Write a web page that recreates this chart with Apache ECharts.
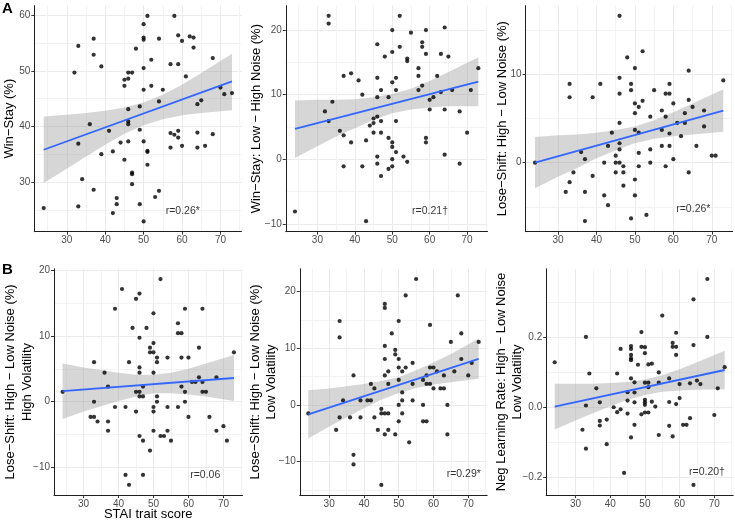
<!DOCTYPE html>
<html><head><meta charset="utf-8">
<script src="https://cdn.jsdelivr.net/npm/echarts@6/dist/echarts.min.js"></script>
<style>html,body{margin:0;padding:0;background:#fff}#c{width:735px;height:522px}</style>
</head><body><div id="c"></div>
<script>
// ---------- data (STAI trait score, measure) ----------
const winStay = [[24,25.3],[32,49.7],[33,54.5],[33,36.9],[33,25.6],[34,30.5],[36,40.4],[37,55.8],[37,52.9],[37,28.6],[39,50.8],[39,35.0],[41,39.2],[42,35.5],[42,24.4],[43,27.1],[43,26.0],[44,37.1],[45,48.4],[45,47.3],[45,34.0],[46,49.7],[46,48.6],[46,43.1],[46,40.9],[46,40.4],[46,37.3],[47,49.7],[47,31.7],[47,31.4],[47,29.6],[48,54.0],[49,43.6],[49,39.4],[49,26.0],[50,58.4],[50,56.0],[50,55.6],[50,50.5],[50,46.6],[50,37.3],[50,22.9],[51,59.9],[51,35.6],[51,35.4],[51,33.1],[52,52.0],[52,47.3],[53,27.3],[54,55.8],[54,44.5],[54,28.4],[55,46.6],[57,51.2],[57,38.8],[57,36.2],[58,59.9],[58,38.5],[59,56.4],[59,51.2],[59,39.2],[59,38.0],[60,55.4],[60,36.5],[61,49.0],[62,56.2],[63,56.0],[63,54.2],[64,44.0],[64,38.9],[64,36.2],[65,44.7],[66,36.5],[68,52.3],[68,38.6],[70,47.0],[71,45.8],[73,46.0]];
const winStayNoise = [[24,-8.1],[32,7.4],[33,22.2],[33,21.0],[33,5.9],[34,8.9],[36,4.4],[37,12.9],[37,3.7],[37,-1.1],[39,13.3],[39,2.6],[41,12.2],[42,10.0],[42,-1.1],[43,2.9],[43,-9.6],[44,5.2],[45,6.3],[45,5.6],[45,4.1],[46,17.8],[46,12.6],[46,9.6],[46,6.6],[46,0.4],[46,-0.7],[47,10.7],[47,5.9],[47,4.1],[47,-2.6],[48,15.9],[49,9.6],[49,3.3],[49,-1.5],[50,20.0],[50,16.6],[50,11.9],[50,2.6],[50,1.9],[50,0],[50,-1.1],[51,12.6],[51,10.7],[51,5.9],[51,1.1],[52,22.2],[52,17.4],[53,0.4],[54,15.6],[54,15.2],[54,-0.4],[55,19.6],[57,14.1],[57,12.9],[57,10.7],[58,18.1],[58,17.4],[58,11.4],[59,20.0],[59,16.3],[59,3.3],[59,2.6],[60,9.2],[60,7.7],[61,9.6],[62,12.9],[63,16.3],[63,10.4],[64,20.4],[64,7.7],[64,0.7],[65,15.9],[66,10.7],[68,7.4],[68,-0.7],[70,4.1],[71,10.7],[73,14.1]];
const loseShiftNoise = [[24,0],[32,-3.3],[33,8.9],[33,7.4],[33,-2.2],[34,-1.1],[36,1.2],[37,0.4],[37,-3.3],[37,-6.6],[39,7.4],[39,-1.5],[41,8.9],[42,0],[42,-3.7],[43,1.9],[43,-4.8],[44,3.4],[45,0.8],[45,0],[45,-1.1],[46,16.6],[46,9.6],[46,7.8],[46,4.5],[46,2.2],[46,1.5],[46,0],[47,-0.4],[47,-1.1],[47,-2.6],[48,11.9],[49,8.9],[49,8.2],[49,-6.3],[50,10.7],[50,6.7],[50,5.6],[50,3.7],[50,-1.9],[50,-3.7],[51,6.3],[51,3.4],[51,1.1],[51,-0.4],[52,12.6],[52,7.0],[53,-5.9],[54,5.2],[54,1.5],[54,0],[55,8.2],[57,5.9],[57,3.7],[57,1.9],[58,7.8],[58,5.2],[58,-0.4],[59,8.9],[59,7.8],[59,3.3],[59,1.9],[60,6.7],[60,0.4],[61,4.5],[62,3.0],[63,5.6],[63,4.5],[64,10.4],[64,7.1],[64,-1.1],[65,6.3],[66,1.9],[68,5.9],[68,4.1],[70,0.8],[71,0.8],[73,9.3]];
const loseShiftHighVol = [[24,1.5],[32,-2.3],[33,6.0],[33,0],[33,-2.3],[34,-3.0],[36,4.4],[37,2.3],[37,-3.0],[37,-4.4],[39,14.1],[39,-0.8],[41,17.1],[42,-0.8],[42,-11.1],[43,6.0],[43,-12.6],[44,11.2],[45,15.6],[45,1.5],[45,-1.5],[46,16.4],[46,9.7],[46,5.2],[46,4.4],[46,1.5],[46,0.8],[46,-5.2],[47,2.3],[47,0.8],[47,-5.9],[47,-11.1],[48,11.2],[49,8.2],[49,7.5],[49,-7.4],[50,13.4],[50,8.9],[50,7.5],[50,4.4],[50,-0.8],[50,-1.5],[50,-4.4],[51,6.7],[51,6.0],[51,0.8],[51,0],[52,18.6],[52,-5.2],[53,-5.2],[54,6.7],[54,-0.8],[54,-4.4],[55,-5.9],[57,11.9],[57,10.4],[57,-0.8],[58,10.4],[58,6.7],[58,2.3],[59,14.1],[59,1.5],[59,0],[60,6.7],[60,-2.3],[61,3.0],[62,3.0],[63,8.2],[63,3.7],[64,14.1],[64,3.0],[64,1.5],[65,1.5],[66,-2.3],[68,3.7],[68,-4.4],[70,-3.7],[71,-5.9],[73,7.5]];
const loseShiftLowVol = [[24,-1.5],[32,-4.4],[33,14.8],[33,11.9],[33,-2.2],[34,0.8],[36,-2.2],[37,5.2],[37,-8.8],[37,-10.5],[39,0.8],[39,-2.2],[41,0.8],[42,3.7],[42,0.8],[43,2.9],[43,-2.2],[44,-4.4],[45,-0.7],[45,-1.5],[45,-14.1],[46,17.8],[46,17.1],[46,10.4],[46,8.1],[46,5.2],[46,-1.5],[46,-5.2],[47,5.9],[47,3.7],[47,-1.5],[47,-4.4],[48,12.6],[49,9.7],[49,8.9],[49,-5.2],[50,14.8],[50,8.1],[50,6.6],[50,4.4],[50,0],[50,-2.9],[51,5.9],[51,2.2],[51,0.8],[51,-1.5],[52,19.3],[52,6.6],[53,-6.6],[54,7.4],[54,3.7],[54,0.8],[55,22.2],[57,4.4],[57,0],[57,-2.9],[58,5.2],[58,3.7],[58,-2.9],[59,14.1],[59,6.6],[59,3.7],[60,6.6],[60,2.9],[61,5.9],[62,2.9],[63,5.2],[63,2.9],[64,0],[64,-5.2],[65,11.1],[66,5.9],[67,19.3],[68,12.6],[68,8.1],[70,5.2],[71,7.4],[73,11.1]];
const negLR = [[24,0.128],[32,-0.064],[33,0.200],[33,0.005],[33,-0.118],[34,0.096],[36,0.054],[37,0.014],[37,-0.039],[37,-0.052],[39,-0.035],[39,-0.105],[41,0.0],[42,0.096],[42,-0.014],[43,0.166],[43,-0.006],[44,-0.187],[45,0.043],[45,0.019],[45,-0.018],[46,0.174],[46,0.166],[46,0.149],[46,0.139],[46,0.134],[46,0.082],[46,-0.086],[47,0.071],[47,0.042],[47,0.014],[47,-0.050],[48,0.121],[49,0.214],[49,0.172],[49,-0.020],[50,0.171],[50,0.154],[50,0.070],[50,0.021],[50,0.014],[50,0.007],[50,-0.015],[51,0.122],[51,0.070],[51,0.057],[51,-0.015],[52,0.124],[52,0.016],[53,0.002],[54,0.099],[54,0.070],[54,-0.079],[55,0.261],[57,0.082],[57,0.015],[57,-0.053],[58,0.183],[58,0.172],[58,-0.083],[59,0.212],[59,0.172],[59,0.149],[59,0.009],[60,0.066],[60,0.026],[61,-0.050],[62,-0.050],[63,-0.031],[63,0.068],[64,0.307],[64,0.177],[64,-0.221],[65,0.076],[66,0.066],[68,0.365],[68,0.200],[70,-0.022],[71,0.054],[73,0.114]];

// regression fits (line end points at x = 24 and 73) and 95% CI band edges
const fitX  = [24, 73];
const bandX = [24, 30, 35, 40, 45, 50, 55, 60, 65, 73];
const fit1 = [35.8, 48.1];
const lo1 = [29.8, 32.4, 34.6, 36.7, 38.7, 40.2, 41.3, 42.0, 42.4, 42.9];
const hi1 = [41.8, 42.1, 42.4, 42.8, 43.4, 44.3, 45.7, 47.5, 49.6, 53.1];
const fit2 = [4.7, 12.0];
const lo2 = [0.2, 2.0, 3.5, 4.8, 6.1, 7.1, 7.7, 8.0, 8.2, 8.2];
const hi2 = [9.1, 9.2, 9.2, 9.3, 9.6, 10.1, 10.9, 12.1, 13.5, 15.8];
const fit3 = [0.0, 5.9];
const lo3 = [-2.9, -1.6, -0.6, 0.5, 1.4, 2.2, 2.7, 3.0, 3.2, 3.5];
const hi3 = [2.9, 3.1, 3.2, 3.4, 3.7, 4.1, 4.8, 5.7, 6.7, 8.3];
const fit4 = [1.6, 3.6];
const lo4 = [-2.6, -1.5, -0.7, 0.1, 0.8, 1.3, 1.3, 1.1, 0.8, 0.1];
const hi4 = [5.8, 5.2, 4.8, 4.4, 4.1, 4.1, 4.4, 5.0, 5.8, 7.1];
const fit5 = [-1.65, 8.1];
const lo5 = [-5.9, -3.8, -2.2, -0.6, 0.9, 2.1, 3.0, 3.6, 4.0, 4.6];
const hi5 = [2.6, 2.9, 3.3, 3.7, 4.2, 4.9, 6.1, 7.5, 9.0, 11.7];
const fit6 = [0.002, 0.106];
const lo6 = [-0.063, -0.038, -0.017, 0.003, 0.021, 0.035, 0.044, 0.048, 0.050, 0.051];
const hi6 = [0.067, 0.067, 0.067, 0.069, 0.072, 0.079, 0.091, 0.108, 0.128, 0.161];

// tick values
const xMajor = [30, 40, 50, 60, 70];
const xMinor = [25, 35, 45, 55, 65, 75];
const yMajor1 = [30, 40, 50, 60],      yMinor1 = [25, 35, 45, 55];
const yMajor2 = [-10, 0, 10, 20],      yMinor2 = [-5, 5, 15];
const yMajor3 = [0, 10],               yMinor3 = [-5, 5, 15];
const yMajor4 = [-10, 0, 10, 20],      yMinor4 = [-5, 5, 15];
const yMajor5 = [-10, 0, 10, 20],      yMinor5 = [-15, -5, 5, 15];
const yMajor6 = [-0.2, 0, 0.2],        yMinor6 = [-0.1, 0.1, 0.3];

// correlation labels
const rText = ['r=0.26*', 'r=0.21\u2020', 'r=0.26*', 'r=0.06', 'r=0.29*', 'r=0.20\u2020'];
const rPos  = [[60.2, 24.8], [60.1, -8.1], [65.2, -5.2], [64.8, -11.1], [68.7, -12.2], [67.9, -0.185]];

// axis titles (outer line, inner line)
const yNameOuter = [
  '', '', '',
  'Lose\u2212Shift: High \u2212 Low Noise (%)',
  'Lose\u2212Shift: High \u2212 Low Noise (%)',
  'Neg Learning Rate: High \u2212 Low Noise'
];
const yNameInner = [
  'Win\u2212Stay (%)',
  'Win\u2212Stay: Low \u2212 High Noise (%)',
  'Lose\u2212Shift: High \u2212 Low Noise (%)',
  'High Volatility',
  'Low Volatility',
  'Low Volatility'
];
const xName = 'STAI trait score';

// ---------- layout / styling ----------
const FONT = "'Liberation Sans', Arial, Helvetica, sans-serif";
const XMIN = 21.55, XMAX = 75.45;
const panels = [
  {pts: winStay, fit: fit1, lo: lo1, hi: hi1, yr: [21.05, 61.75], yMaj: yMajor1, yMin: yMinor1, dec: 0,
   grid: {left: 34.3, top: 5.6, width: 207.1, height: 226.1}, tIn: 9.5},
  {pts: winStayNoise, fit: fit2, lo: lo2, hi: hi2, yr: [-11.23, 23.79], yMaj: yMajor2, yMin: yMinor2, dec: 0,
   grid: {left: 285.8, top: 5.6, width: 201.7, height: 226.1}, tIn: 256},
  {pts: loseShiftNoise, fit: fit3, lo: lo3, hi: hi3, yr: [-7.8, 17.76], yMaj: yMajor3, yMin: yMinor3, dec: 0,
   grid: {left: 525.6, top: 5.6, width: 207.1, height: 226.1}, tIn: 502},
  {pts: loseShiftHighVol, fit: fit4, lo: lo4, hi: hi4, yr: [-14.16, 20.16], yMaj: yMajor4, yMin: yMinor4, dec: 0,
   grid: {left: 54, top: 268.8, width: 188.5, height: 226.3}, tOut: 10.5, tIn: 27, showX: true},
  {pts: loseShiftLowVol, fit: fit5, lo: lo5, hi: hi5, yr: [-15.9, 24.0], yMaj: yMajor5, yMin: yMinor5, dec: 0,
   grid: {left: 299.8, top: 268.8, width: 187.4, height: 226.3}, tOut: 255.5, tIn: 271.5},
  {pts: negLR, fit: fit6, lo: lo6, hi: hi6, yr: [-0.250, 0.394], yMaj: yMajor6, yMin: yMinor6, dec: 1,
   grid: {left: 546.2, top: 268.8, width: 187, height: 226.3}, tOut: 501.5, tIn: 517.5}
];

function fmt(v, dec) {
  const s = dec ? Number(v).toFixed(dec) : String(Math.round(v));
  return s.replace('-', '\u2212');
}
const titleFont = '13px ' + FONT;

const grids = [], xAxes = [], yAxes = [], series = [], graphics = [];
panels.forEach((p, i) => {
  grids.push(Object.assign({outerBoundsMode: 'none', containLabel: false}, p.grid));
  xAxes.push({
    type: 'value', gridIndex: i, min: XMIN, max: XMAX, position: 'bottom',
    axisLine: {show: true, onZero: false, lineStyle: {color: '#1f1f1f', width: 1}},
    axisTick: {show: true, length: 3, customValues: xMajor, lineStyle: {color: '#333', width: 1}},
    axisLabel: {show: true, customValues: xMajor, margin: 4, color: '#4d4d4d', fontSize: 10, fontFamily: FONT,
                formatter: v => fmt(v, 0)},
    splitLine: {show: true, lineStyle: {color: '#ebebeb', width: 1}}
  });
  xAxes.push({
    type: 'value', gridIndex: i, min: XMIN, max: XMAX, position: 'top',
    axisLine: {show: false}, axisTick: {show: false, customValues: xMinor},
    axisLabel: {show: false}, splitLine: {show: true, lineStyle: {color: '#f3f3f3', width: 1}}
  });
  yAxes.push({
    type: 'value', gridIndex: i, min: p.yr[0], max: p.yr[1], position: 'left',
    axisLine: {show: true, onZero: false, lineStyle: {color: '#1f1f1f', width: 1}},
    axisTick: {show: true, length: 3, customValues: p.yMaj, lineStyle: {color: '#333', width: 1}},
    axisLabel: {show: true, customValues: p.yMaj, margin: 4, color: '#4d4d4d', fontSize: 10, fontFamily: FONT,
                formatter: v => fmt(v, p.dec)},
    splitLine: {show: true, lineStyle: {color: '#ebebeb', width: 1}}
  });
  yAxes.push({
    type: 'value', gridIndex: i, min: p.yr[0], max: p.yr[1], position: 'right',
    axisLine: {show: false}, axisTick: {show: false, customValues: p.yMin},
    axisLabel: {show: false}, splitLine: {show: true, lineStyle: {color: '#f3f3f3', width: 1}}
  });
  const xi = 2 * i, yi = 2 * i;
  series.push({
    type: 'scatter', xAxisIndex: xi, yAxisIndex: yi, data: p.pts,
    symbol: 'circle', symbolSize: 4.2, itemStyle: {color: '#000'}, silent: true
  });
  series.push({
    type: 'custom', xAxisIndex: xi, yAxisIndex: yi, silent: true,
    data: bandX.map((x, k) => [x, p.lo[k], p.hi[k]]),
    encode: {x: 0, y: [1, 2]},
    renderItem: (params, api) => {
      if (params.dataIndex !== 0) return null;
      const pts = [];
      for (let k = 0; k < bandX.length; k++) pts.push(api.coord([bandX[k], p.hi[k]]));
      for (let k = bandX.length - 1; k >= 0; k--) pts.push(api.coord([bandX[k], p.lo[k]]));
      return {type: 'polygon', shape: {points: pts, smooth: 0}, style: {fill: 'rgba(153,153,153,0.4)'}};
    }
  });
  series.push({
    type: 'line', xAxisIndex: xi, yAxisIndex: yi, silent: true,
    data: fitX.map((x, k) => [x, p.fit[k]]),
    showSymbol: false, symbol: 'none', lineStyle: {color: '#3366ff', width: 1.8}
  });
  series.push({
    type: 'scatter', xAxisIndex: xi, yAxisIndex: yi, silent: true,
    data: [rPos[i]], symbolSize: 1, itemStyle: {color: 'rgba(0,0,0,0)'},
    label: {show: true, position: 'inside', formatter: rText[i], color: '#000', fontSize: 10.5, fontFamily: FONT}
  });
  // axis titles (rotated text, centred on the panel)
  const cy = p.grid.top + p.grid.height / 2;
  graphics.push({type: 'text', x: p.tIn, y: cy, rotation: Math.PI / 2, silent: true,
    style: {text: yNameInner[i], font: titleFont, fill: '#000', align: 'center', verticalAlign: 'middle'}});
  if (yNameOuter[i]) {
    graphics.push({type: 'text', x: p.tOut, y: cy, rotation: Math.PI / 2, silent: true,
      style: {text: yNameOuter[i], font: titleFont, fill: '#000', align: 'center', verticalAlign: 'middle'}});
  }
  if (p.showX) {
    graphics.push({type: 'text', x: p.grid.left + p.grid.width / 2, y: 514.5, silent: true,
      style: {text: xName, font: titleFont, fill: '#000', align: 'center', verticalAlign: 'middle'}});
  }
});
graphics.push({type: 'text', left: 2, top: 1.5, style: {text: 'A', font: 'bold 15px ' + FONT, fill: '#000'}});
graphics.push({type: 'text', left: 2, top: 262.5, style: {text: 'B', font: 'bold 15px ' + FONT, fill: '#000'}});

const chart = echarts.init(document.getElementById('c'), null, {renderer: 'canvas'});
chart.setOption({
  animation: false,
  backgroundColor: '#fff',
  grid: grids, xAxis: xAxes, yAxis: yAxes, series: series,
  graphic: graphics
});
</script>
</body></html>
